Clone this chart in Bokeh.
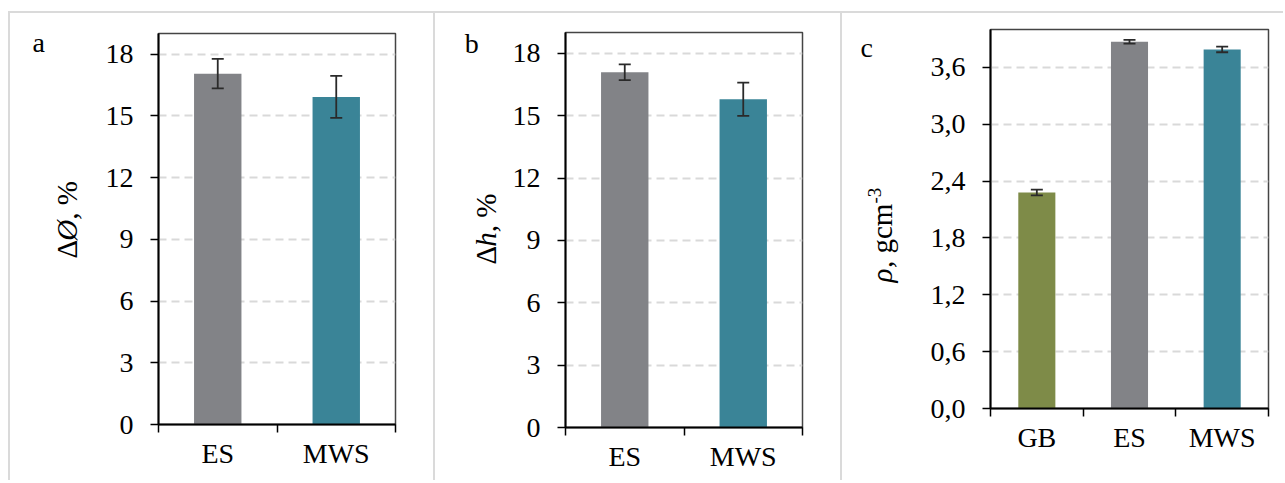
import math
import numpy as np
from bokeh.plotting import figure
from bokeh.models import ColumnDataSource, Whisker, TeeHead, FixedTicker, Label, Range1d
from bokeh.layouts import row, column
from bokeh.embed import file_html
from bokeh.resources import INLINE

# ---- data ----
cats_a = ["ES", "MWS"]
dd_vals = [17.05, 15.92]
dd_err = [0.72, 1.02]

cats_b = ["ES", "MWS"]
dh_vals = [17.09, 15.79]
dh_err = [0.38, 0.80]

cats_c = ["GB", "ES", "MWS"]
rho_vals = [2.28, 3.87, 3.79]
rho_err = [0.03, 0.02, 0.03]

ticks_ab = [0, 3, 6, 9, 12, 15, 18]
labels_ab = ["0", "3", "6", "9", "12", "15", "18"]
ticks_c = [0.0, 0.6, 1.2, 1.8, 2.4, 3.0, 3.6]
labels_c = ["0,0", "0,6", "1,2", "1,8", "2,4", "3,0", "3,6"]

# y-axis titles, in pieces: (text, font style, font px, advance in em, shift px, side panel)
ytitle_a = [("Δ", "normal", 29, 0.612, 0, "left"), ("Ø", "italic", 29, 0.722, 0, "left"),
            (", %", "normal", 29, 1.333, 0, "right")]
ytitle_b = [("Δ", "normal", 29, 0.612, 0, "left"), ("h", "italic", 29, 0.5, 0, "above"),
            (", %", "normal", 29, 1.333, 0, "right")]
ytitle_c = [("ρ", "italic", 29, 0.5, 0, "left"), (", gcm", "normal", 29, 2.222, 0, "left"),
            ("-3", "normal", 19, 0.833, -7, "below")]

colors = {"GB": "#7e8b48", "ES": "#828387", "MWS": "#3a8497"}

FONT = "Liberation Serif"
FS = "28px"
GRAY_BORDER = "2px solid #dadada"


def panel(cats, vals, errs, ymax, yticks, ylabels, ytitle, letter,
          width, height, mbl, mbr, mbt, mbb, letter_xy, mleft, title_pos):
    n = len(cats)
    x = np.arange(n) + 0.5
    src = ColumnDataSource(dict(
        x=x, top=vals,
        upper=[v + e for v, e in zip(vals, errs)],
        lower=[v - e for v, e in zip(vals, errs)],
        color=[colors[c] for c in cats]))
    p = figure(width=width, height=height, output_backend="svg",
               toolbar_location=None, x_range=Range1d(0, n),
               y_range=Range1d(0, ymax),
               min_border_left=mbl, min_border_right=mbr,
               min_border_top=mbt, min_border_bottom=mbb,
               margin=(11, 0, 0, mleft),
               styles={"border-top": GRAY_BORDER, "border-left": GRAY_BORDER})
    p.vbar(x="x", top="top", width=0.4, fill_color="color", line_color=None, source=src)
    w = Whisker(source=src, base="x", upper="upper", lower="lower",
                line_color="#2a2a2a", line_width=1.8,
                upper_head=TeeHead(size=12, line_color="#2a2a2a", line_width=1.8),
                lower_head=TeeHead(size=12, line_color="#2a2a2a", line_width=1.8))
    w.level = "overlay"
    p.add_layout(w)

    xa = p.xaxis[0]
    xa.ticker = FixedTicker(ticks=list(x), minor_ticks=list(range(n + 1)))
    xa.major_label_overrides = {float(xi): c for xi, c in zip(x, cats)}
    xa.major_tick_line_color = None
    xa.minor_tick_line_color = "black"
    xa.minor_tick_line_width = 1.5
    xa.minor_tick_out = 8
    xa.minor_tick_in = 0
    xa.axis_line_color = "black"
    xa.axis_line_width = 2
    xa.major_label_text_font = FONT
    xa.major_label_text_font_size = FS
    xa.major_label_text_color = "black"
    xa.major_label_standoff = 5

    ya = p.yaxis[0]
    ya.ticker = FixedTicker(ticks=yticks)
    ya.major_label_overrides = {float(t): l for t, l in zip(yticks, ylabels)}
    ya.minor_tick_line_color = None
    ya.major_tick_line_color = "black"
    ya.major_tick_line_width = 1.5
    ya.major_tick_out = 8
    ya.major_tick_in = 0
    ya.axis_line_color = "black"
    ya.axis_line_width = 2
    ya.major_label_text_font = FONT
    ya.major_label_text_font_size = FS
    ya.major_label_text_color = "black"
    ya.major_label_standoff = 17

    p.xgrid.grid_line_color = None
    p.ygrid.grid_line_color = "#d9d9d9"
    p.ygrid.grid_line_width = 2
    p.ygrid.grid_line_dash = "8 5"

    p.outline_line_color = "#444444"
    p.outline_line_width = 1.5
    p.background_fill_color = "white"
    p.border_fill_color = "white"

    # frame size in px, to convert pixel offsets into data units
    fw = width - 2 - mbl - mbr
    fh = height - mbt - mbb
    ux = fw / n
    uy = fh / ymax

    # panel letter, placed via the frame's data scales in a side panel (not clipped)
    p.add_layout(Label(x=letter_xy[0], y=letter_xy[1], x_units="data", y_units="data",
                       text=letter, text_font=FONT, text_font_size=FS,
                       text_color="black", text_baseline="alphabetic", text_align="left"),
                 "left")

    # rotated y-axis title built from pieces (for the italic symbol)
    mid_px, start_px = title_pos
    pos = start_px
    for txt, style, size, adv, shift, side in ytitle:
        p.add_layout(Label(x=(mid_px + shift) / ux, y=pos / uy, x_units="data", y_units="data",
                           text=txt, text_font=FONT, text_font_size=f"{size}px",
                           text_font_style=style, text_color="black",
                           angle=math.pi / 2, text_align="left", text_baseline="middle"),
                     side)
        pos += adv * size
    return p


pa = panel(cats_a, dd_vals, dd_err, 19, ticks_ab, labels_ab, ytitle_a, "a",
           425, 469, 148, 40, 20, 58, (-1.064, 18.57), 8, (-91, 166))
pb = panel(cats_b, dh_vals, dh_err, 19, ticks_ab, labels_ab, ytitle_b, "b",
           407, 469, 130, 40, 19, 55, (-0.851, 18.48), 0, (-79, 163))
pc = panel(cats_c, rho_vals, rho_err, 4.0, ticks_c, labels_c, ytitle_c, "c",
           443, 469, 148, 17, 16, 74, (-1.402, 3.81), 0, (-108, 126))

layout = row(column(pa), column(pb), column(pc), spacing=0)
open("out.html", "w").write(file_html(layout, INLINE))
